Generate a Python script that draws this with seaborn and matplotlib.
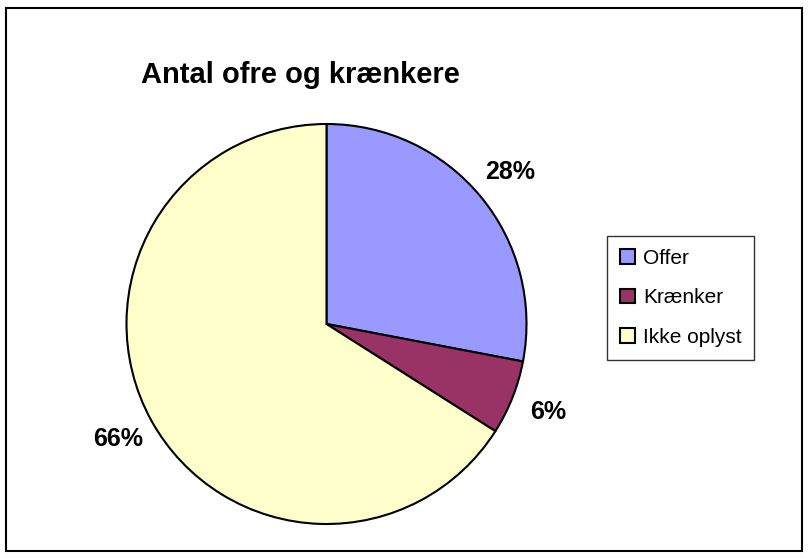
import matplotlib
matplotlib.use("Agg")
import matplotlib.pyplot as plt
import seaborn as sns
from matplotlib.patches import Rectangle

# data
labels = ["Offer", "Krænker", "Ikke oplyst"]
values = [28, 6, 66]
colors = ["#9999FF", "#993366", "#FFFFCC"]
title = "Antal ofre og krænkere"

sns.set_theme(style="white")
plt.rcParams["font.family"] = ["Liberation Sans", "DejaVu Sans"]
plt.rcParams["text.color"] = "black"

W, H = 811, 559
fig = plt.figure(figsize=(W / 100, H / 100), dpi=100)
fig.patch.set_facecolor("white")

# outer frame of the chart area
fig.patches.append(Rectangle((6 / W, 1 - 551 / H), 796 / W, 543 / H,
                             transform=fig.transFigure, fill=False,
                             edgecolor="black", linewidth=1.5))

# pie axes: centre (326.5, 324) px, radius 200 px
cx, cy, r = 326.5, 324, 200
ax = fig.add_axes([(cx - r) / W, 1 - (cy + r) / H, 2 * r / W, 2 * r / H])
wedges, texts, autotexts = ax.pie(
    values, colors=colors, startangle=90, counterclock=False,
    autopct="%1.0f%%", pctdistance=1.19,
    wedgeprops=dict(edgecolor="black", linewidth=1.5),
    textprops=dict(fontsize=18, fontweight="bold", color="black"))
ax.set_xlim(-1, 1)
ax.set_ylim(-1, 1)
ax.set_aspect("equal")
ax.axis("off")

fig.text(300 / W, 1 - 83 / H, title, ha="center", va="baseline",
         fontsize=21, fontweight="bold", color="black")

leg = ax.legend(wedges, labels, loc="upper left",
                bbox_to_anchor=(607 / W, 1 - 236 / H),
                bbox_transform=fig.transFigure, borderaxespad=0,
                fontsize=15, frameon=True, fancybox=False,
                handlelength=0.72, handleheight=0.72, handletextpad=0.4,
                labelspacing=1.0, borderpad=0.6, labelcolor="black")
leg.get_frame().set_edgecolor("black")
leg.get_frame().set_linewidth(1.0)

fig.savefig("out.png", dpi=100)
